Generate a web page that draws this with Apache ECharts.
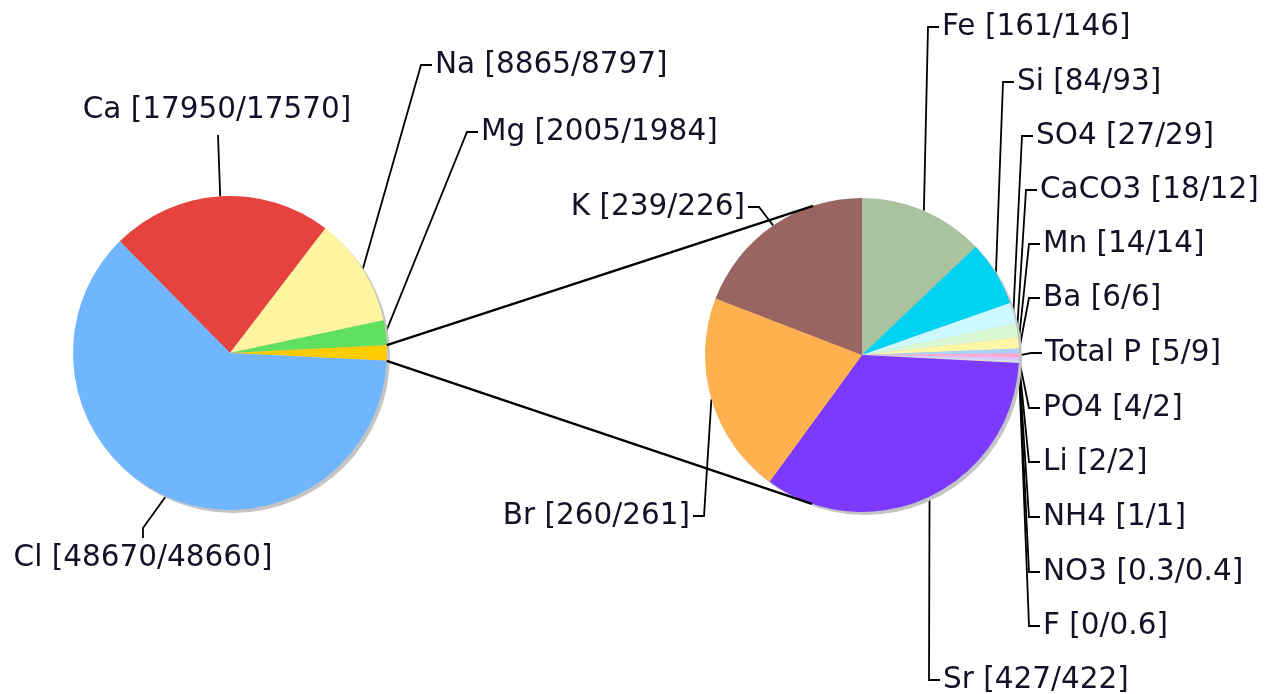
<!DOCTYPE html>
<html>
<head>
<meta charset="utf-8">
<title>Ion composition</title>
<script src="https://cdn.jsdelivr.net/npm/echarts@6/dist/echarts.min.js"></script>
<style>
  html, body { margin: 0; padding: 0; background: #ffffff; }
  #main { width: 1267px; height: 694px; }
</style>
</head>
<body>
<div id="main"></div>
<script>
// Major ions (main pie), in clockwise order; the small remainder slice sits between Mg and Cl.
const majorNames = ['Ca', 'Na', 'Mg', 'Cl'];
const majorValues = [17950, 8865, 2005, 48670];
const majorSecond = [17570, 8797, 1984, 48660];

// Minor constituents (detail pie), clockwise from 12 o'clock.
const minorNames = ['Fe', 'Si', 'SO4', 'CaCO3', 'Mn', 'Ba', 'Total P', 'PO4', 'Li', 'NH4', 'NO3', 'F', 'Sr', 'Br', 'K'];
const minorValues = [161, 84, 27, 18, 14, 6, 5, 4, 2, 1, 0.3, 0, 427, 260, 239];
const minorSecond = [146, 93, 29, 12, 14, 6, 9, 2, 2, 1, 0.4, 0.6, 422, 261, 226];

// Palettes
const majorColors = { Ca: '#e6433f', Na: '#fff4a0', Mg: '#5fe05f', Cl: '#6fb6ff' };
const otherColor = '#ffcc00';
const minorColors = ['#a9c39f', '#00d2f2', '#ccf8ff', '#daf7d4', '#fff6a6', '#a9d2ff', '#ffa8d4',
                     '#dcc4ff', '#c8e4ff', '#ffd8a8', '#e0e0e0', '#f0f0f0', '#7c3aff', '#ffb04f', '#9a6560'];

// Geometry of the two pies
const LEFT = { cx: 230, cy: 353, r: 157 };
const RIGHT = { cx: 862, cy: 355, r: 157 };

// Label anchor positions (text anchor point, alignment, where the leader line meets the text)
const labelSpots = {
  Ca: { x: 217, y: 110, align: 'center', side: 'top' },
  Cl: { x: 143, y: 558, align: 'center', side: 'bottom' },
  Na: { x: 435, y: 65, align: 'left' },
  Mg: { x: 481, y: 132, align: 'left' },
  K: { x: 745, y: 207, align: 'right' },
  Br: { x: 690, y: 516, align: 'right' },
  Fe: { x: 942, y: 27, align: 'left' },
  Si: { x: 1017, y: 82, align: 'left' },
  SO4: { x: 1036, y: 136, align: 'left' },
  CaCO3: { x: 1040, y: 190, align: 'left' },
  Mn: { x: 1043, y: 244, align: 'left' },
  Ba: { x: 1043, y: 298, align: 'left' },
  'Total P': { x: 1045, y: 353, align: 'left' },
  PO4: { x: 1043, y: 408, align: 'left' },
  Li: { x: 1043, y: 462, align: 'left' },
  NH4: { x: 1043, y: 517, align: 'left' },
  NO3: { x: 1043, y: 572, align: 'left' },
  F: { x: 1043, y: 626, align: 'left' },
  Sr: { x: 943, y: 680, align: 'left' }
};

const sum = arr => arr.reduce((a, b) => a + b, 0);
const otherValue = sum(minorValues);

// Main pie data: Ca, Na, Mg, (remainder), Cl
const mainData = [];
majorNames.forEach((n, i) => {
  if (n === 'Cl') {
    mainData.push({ name: 'Other', value: otherValue, itemStyle: { color: otherColor },
                    label: { show: false }, labelLine: { show: false } });
  }
  mainData.push({ name: n, value: majorValues[i], second: majorSecond[i], itemStyle: { color: majorColors[n] } });
});
const mainTotal = sum(majorValues) + otherValue;
// Rotate so the remainder slice is centred on 3 o'clock
const beforeOther = majorValues[0] + majorValues[1] + majorValues[2];
const mainStart = (beforeOther + otherValue / 2) / mainTotal * 360;

const detailData = minorNames.map((n, i) => ({
  name: n, value: minorValues[i], second: minorSecond[i], itemStyle: { color: minorColors[i] }
}));

const fmt = v => String(v);
const labelText = p => p.name + ' [' + fmt(p.value) + '/' + fmt(p.data.second) + ']';

function leaderLayout(dataList) {
  return function (params) {
    const item = dataList[params.dataIndex];
    const spot = item && labelSpots[item.name];
    if (!spot || !params.labelLinePoints) return {};
    const edge = params.labelLinePoints[0];
    const x = spot.x, y = spot.y;
    let pts;
    if (spot.side === 'top') {
      pts = [edge, [x + 1, y + 25], [x + 1, y + 25]];
    } else if (spot.side === 'bottom') {
      pts = [edge, [x, y - 30], [x, y - 20]];
    } else if (spot.align === 'left') {
      pts = [edge, [x - 14, y], [x - 3, y]];
    } else {
      pts = [edge, [x + 14, y], [x + 3, y]];
    }
    return { x: x, y: y, align: spot.align, verticalAlign: 'middle', labelLinePoints: pts };
  };
}

const labelStyle = {
  show: true,
  position: 'outside',
  formatter: labelText,
  fontFamily: 'DejaVu Sans, Verdana, sans-serif',
  fontSize: 29.5,
  color: '#121226',
  width: 420,
  overflow: 'none'
};
const lineStyle = { show: true, lineStyle: { color: '#000', width: 1.8 }, length: 10, length2: 10 };

function shadowSeries(g) {
  return {
    type: 'pie', silent: true, animation: false,
    center: [g.cx + 3, g.cy + 3], radius: g.r,
    label: { show: false }, labelLine: { show: false },
    itemStyle: { color: '#c4c4c4' },
    emphasis: { disabled: true },
    data: [{ value: 1, name: '' }]
  };
}

// Remainder slice edges and their tangent lines onto the detail pie
function connectorLines() {
  const rad = Math.PI / 180;
  const a1 = (mainStart - beforeOther / mainTotal * 360) * rad;
  const a2 = a1 - otherValue / mainTotal * 360 * rad;
  const P1 = [LEFT.cx + LEFT.r * Math.cos(a1), LEFT.cy - LEFT.r * Math.sin(a1)];
  const P2 = [LEFT.cx + LEFT.r * Math.cos(a2), LEFT.cy - LEFT.r * Math.sin(a2)];
  function tangent(P, upper) {
    const dx = P[0] - RIGHT.cx, dy = -(P[1] - RIGHT.cy);
    const d = Math.sqrt(dx * dx + dy * dy);
    const base = Math.atan2(dy, dx);
    const off = Math.acos(RIGHT.r / d);
    const t = upper ? base - off : base + off;
    return [RIGHT.cx + RIGHT.r * Math.cos(t), RIGHT.cy - RIGHT.r * Math.sin(t)];
  }
  const T1 = tangent(P1, true), T2 = tangent(P2, false);
  const style = { stroke: '#000', lineWidth: 2.4 };
  return [
    { type: 'line', z: 100, silent: true, shape: { x1: P1[0], y1: P1[1], x2: T1[0], y2: T1[1] }, style: style },
    { type: 'line', z: 100, silent: true, shape: { x1: P2[0], y1: P2[1], x2: T2[0], y2: T2[1] }, style: style }
  ];
}

const chart = echarts.init(document.getElementById('main'), null, { renderer: 'canvas' });
chart.setOption({
  backgroundColor: '#ffffff',
  animation: false,
  series: [
    shadowSeries(LEFT),
    shadowSeries(RIGHT),
    {
      type: 'pie', name: 'major',
      center: [LEFT.cx, LEFT.cy], radius: LEFT.r,
      startAngle: mainStart, clockwise: true,
      avoidLabelOverlap: false, minAngle: 0,
      itemStyle: { borderWidth: 0 },
      emphasis: { disabled: true },
      label: labelStyle, labelLine: lineStyle,
      labelLayout: leaderLayout(mainData),
      data: mainData
    },
    {
      type: 'pie', name: 'minor',
      center: [RIGHT.cx, RIGHT.cy], radius: RIGHT.r,
      startAngle: 90, clockwise: true,
      avoidLabelOverlap: false, minAngle: 0,
      itemStyle: { borderWidth: 0 },
      emphasis: { disabled: true },
      label: labelStyle, labelLine: lineStyle,
      labelLayout: leaderLayout(detailData),
      data: detailData
    }
  ],
  graphic: connectorLines()
});
</script>
</body>
</html>
